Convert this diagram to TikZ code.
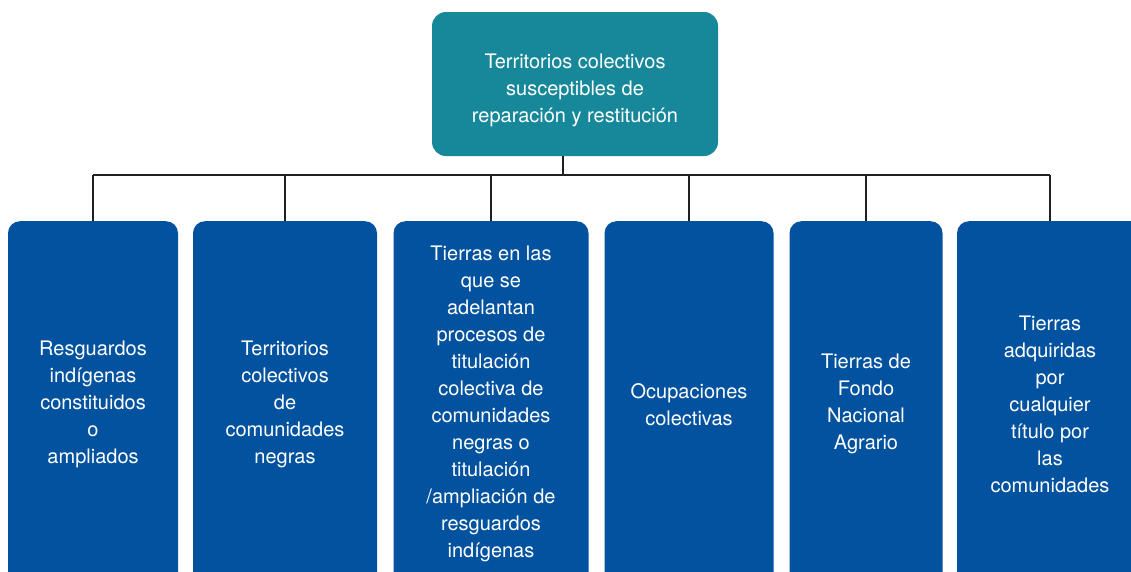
\documentclass[tikz,border=0pt]{standalone}
\usepackage{fontspec}
\setmainfont{TeX Gyre Heros}
\definecolor{tealbox}{HTML}{17879A}
\definecolor{bluebox}{HTML}{02529F}
\definecolor{linegray}{HTML}{231F20}
\newcommand{\firstline}{\rule{0pt}{27pt}}
\tikzset{
  topbox/.style={fill=tealbox, rounded corners=14pt, text=white, align=center,
    minimum width=286pt, minimum height=144pt, inner sep=0pt,
    font=\fontsize{20}{27}\selectfont},
  leafbox/.style={fill=bluebox, rounded corners=12pt, text=white, align=center,
    anchor=north, minimum height=366pt, inner sep=0pt,
    font=\fontsize{20}{27}\selectfont},
  link/.style={draw=linegray, line width=2pt}
}
\begin{document}
\begin{tikzpicture}[x=1pt,y=1pt]
                \useasboundingbox (0,0) rectangle (1131,-571) ;
                \clip (0,0) rectangle (1131,-571) ;
                \node [topbox] (top) at (575,-84) {\firstline Territorios colectivos\\susceptibles de\\reparación y restitución} ;
                \node [leafbox, minimum width=170pt] (c1) at (93,-221) {Resguardos\\indígenas\\constituidos\\o\\ampliados} ;
                \node [leafbox, minimum width=184pt] (c2) at (285,-221) {Territorios\\colectivos\\de\\comunidades\\negras} ;
                \node [leafbox, minimum width=195pt] (c3) at (491,-221) {Tierras en las\\que se\\adelantan\\procesos de\\titulación\\colectiva de\\comunidades\\negras o\\titulación\\/ampliación de\\resguardos\\indígenas} ;
                \node [leafbox, minimum width=169pt] (c4) at (689,-221) {Ocupaciones\\colectivas} ;
                \node [leafbox, minimum width=153pt] (c5) at (866,-221) {Tierras de\\Fondo\\Nacional\\Agrario} ;
                \node [leafbox, minimum width=186pt] (c6) at (1050,-221) {Tierras\\adquiridas\\por\\cualquier\\título por\\las\\comunidades} ;
                \coordinate (hub) at (563,-175) ;
                \draw [link] (hub |- top.south) -- (hub) ;
                \draw [link] (c1.north |- hub) -- (c6.north |- hub) ;
                \foreach \n in {c1,c2,c3,c4,c5,c6}
                    \draw [link] (\n.north |- hub) -- (\n.north) ;
\end{tikzpicture}
\end{document}
